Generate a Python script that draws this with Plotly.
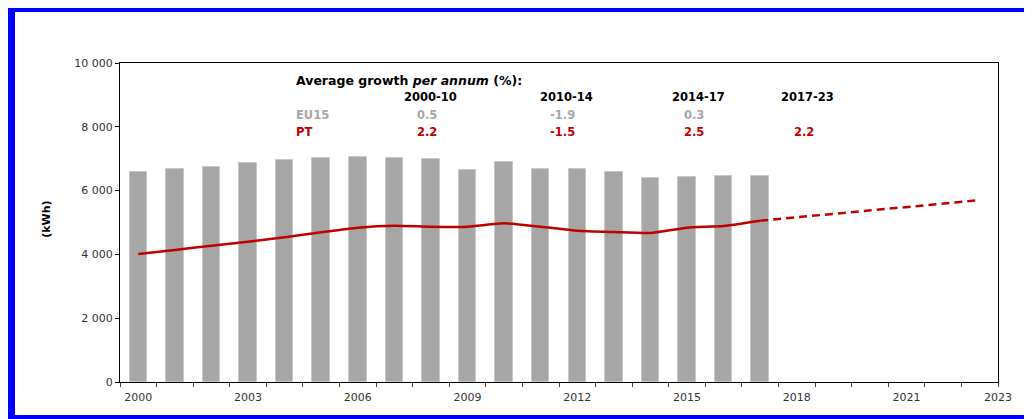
import plotly.graph_objects as go

# DATA
years = list(range(2000, 2018))
eu15_kwh = [6573, 6677, 6750, 6865, 6959, 7031, 7053, 7031, 7000, 6646,
            6887, 6677, 6677, 6593, 6386, 6426, 6448, 6448]
pt_kwh = [4013, 4138, 4273, 4398, 4535, 4692, 4837, 4900, 4868, 4868,
          4975, 4868, 4743, 4702, 4671, 4837, 4890, 5056]
proj_years = [2017, 2023]
proj_kwh = [5056, 5700]

periods = ["2000-10", "2010-14", "2014-17", "2017-23"]
eu15_growth = ["0.5", "-1.9", "0.3", ""]
pt_growth = ["2.2", "-1.5", "2.5", "2.2"]

x_tickvals = [2000, 2003, 2006, 2009, 2012, 2015, 2018, 2021, 2023.5]
x_ticktext = ["2000", "2003", "2006", "2009", "2012", "2015", "2018", "2021", "2023"]

GREY = "#A6A6A6"
RED = "#C00000"
FONT = "DejaVu Sans"

# page body has an 8px margin, so the figure is 8px smaller and shifted
W, H = 1024, 411
L, T, PW, PH = 112, 55, 878, 319

fig = go.Figure()

fig.add_trace(go.Bar(
    x=years, y=eu15_kwh, width=0.48,
    marker=dict(color=GREY, line=dict(color="#C8C8C8", width=1)),
    showlegend=False,
))
fig.add_trace(go.Scatter(
    x=years, y=pt_kwh, mode="lines",
    line=dict(color=RED, width=2.5, shape="spline", smoothing=0.5),
    showlegend=False,
))
fig.add_trace(go.Scatter(
    x=proj_years, y=proj_kwh, mode="lines",
    line=dict(color=RED, width=2.5, dash="8px,5px"),
    showlegend=False,
))

# growth table (text positions in axis units)
col_x = [2008.0, 2011.7, 2015.3, 2018.3]
txt = dict(size=11.5, family=FONT)
fig.add_annotation(x=2004.25, y=9467, xanchor="left", showarrow=False,
                   text="<b>Average growth <i>per annum</i> (%):</b>",
                   font=dict(color="black", size=12.5, family=FONT))
fig.add_annotation(x=2004.25, y=8370, xanchor="left", showarrow=False,
                   text="<b>EU15</b>", font=dict(color=GREY, **txt))
fig.add_annotation(x=2004.25, y=7837, xanchor="left", showarrow=False,
                   text="<b>PT</b>", font=dict(color=RED, **txt))
for cx, p, e, t in zip(col_x, periods, eu15_growth, pt_growth):
    fig.add_annotation(x=cx, y=8934, showarrow=False, text=f"<b>{p}</b>",
                       font=dict(color="black", **txt))
    if e:
        fig.add_annotation(x=cx - 0.1, y=8370, showarrow=False, text=f"<b>{e}</b>",
                           font=dict(color=GREY, **txt))
    fig.add_annotation(x=cx - 0.1, y=7837, showarrow=False, text=f"<b>{t}</b>",
                       font=dict(color=RED, **txt))

# y title
fig.add_annotation(xref="paper", yref="paper", x=(30 - L) / PW, y=0.51, textangle=-90,
                   showarrow=False, text="<b>(kWh)</b>",
                   font=dict(size=11, family=FONT, color="black"))

# blue page frame (figure pixel coords -> paper)
def px(x):
    return (x - L) / PW

def py(y):
    return (T + PH - y) / PH

fig.add_shape(type="rect", xref="paper", yref="paper",
              x0=px(3), x1=px(1022), y0=py(411), y1=py(0),
              line=dict(color="#0000FF", width=8), layer="above")

fig.update_layout(
    width=W, height=H,
    margin=dict(l=L, r=W - L - PW, t=T, b=H - T - PH),
    paper_bgcolor="white", plot_bgcolor="white",
    font=dict(family=FONT, size=11, color="#333333"),
    separators=". ",
    bargap=0,
)
fig.update_xaxes(
    range=[1999.5, 2023.5], tickmode="array",
    tickvals=x_tickvals, ticktext=x_ticktext,
    ticks="outside", ticklen=5, tickcolor="rgba(0,0,0,0)",
    minor=dict(tickmode="array", tickvals=[1999.5 + k for k in range(25)],
               ticks="outside", ticklen=4, tickcolor="#444444", tickwidth=1),
    showline=True, linecolor="black", linewidth=1, mirror=True,
    showgrid=False, zeroline=False,
    tickfont=dict(size=11, color="#333333"),
)
fig.update_yaxes(
    range=[0, 10000], tickmode="array",
    tickvals=[0, 2000, 4000, 6000, 8000, 10000],
    tickformat=",d", separatethousands=True,
    ticks="outside", ticklen=4, tickcolor="black",
    showline=True, linecolor="black", linewidth=1, mirror=True,
    showgrid=False, zeroline=False,
    tickfont=dict(size=11, color="#333333"),
)

fig.write_html("out.html")
